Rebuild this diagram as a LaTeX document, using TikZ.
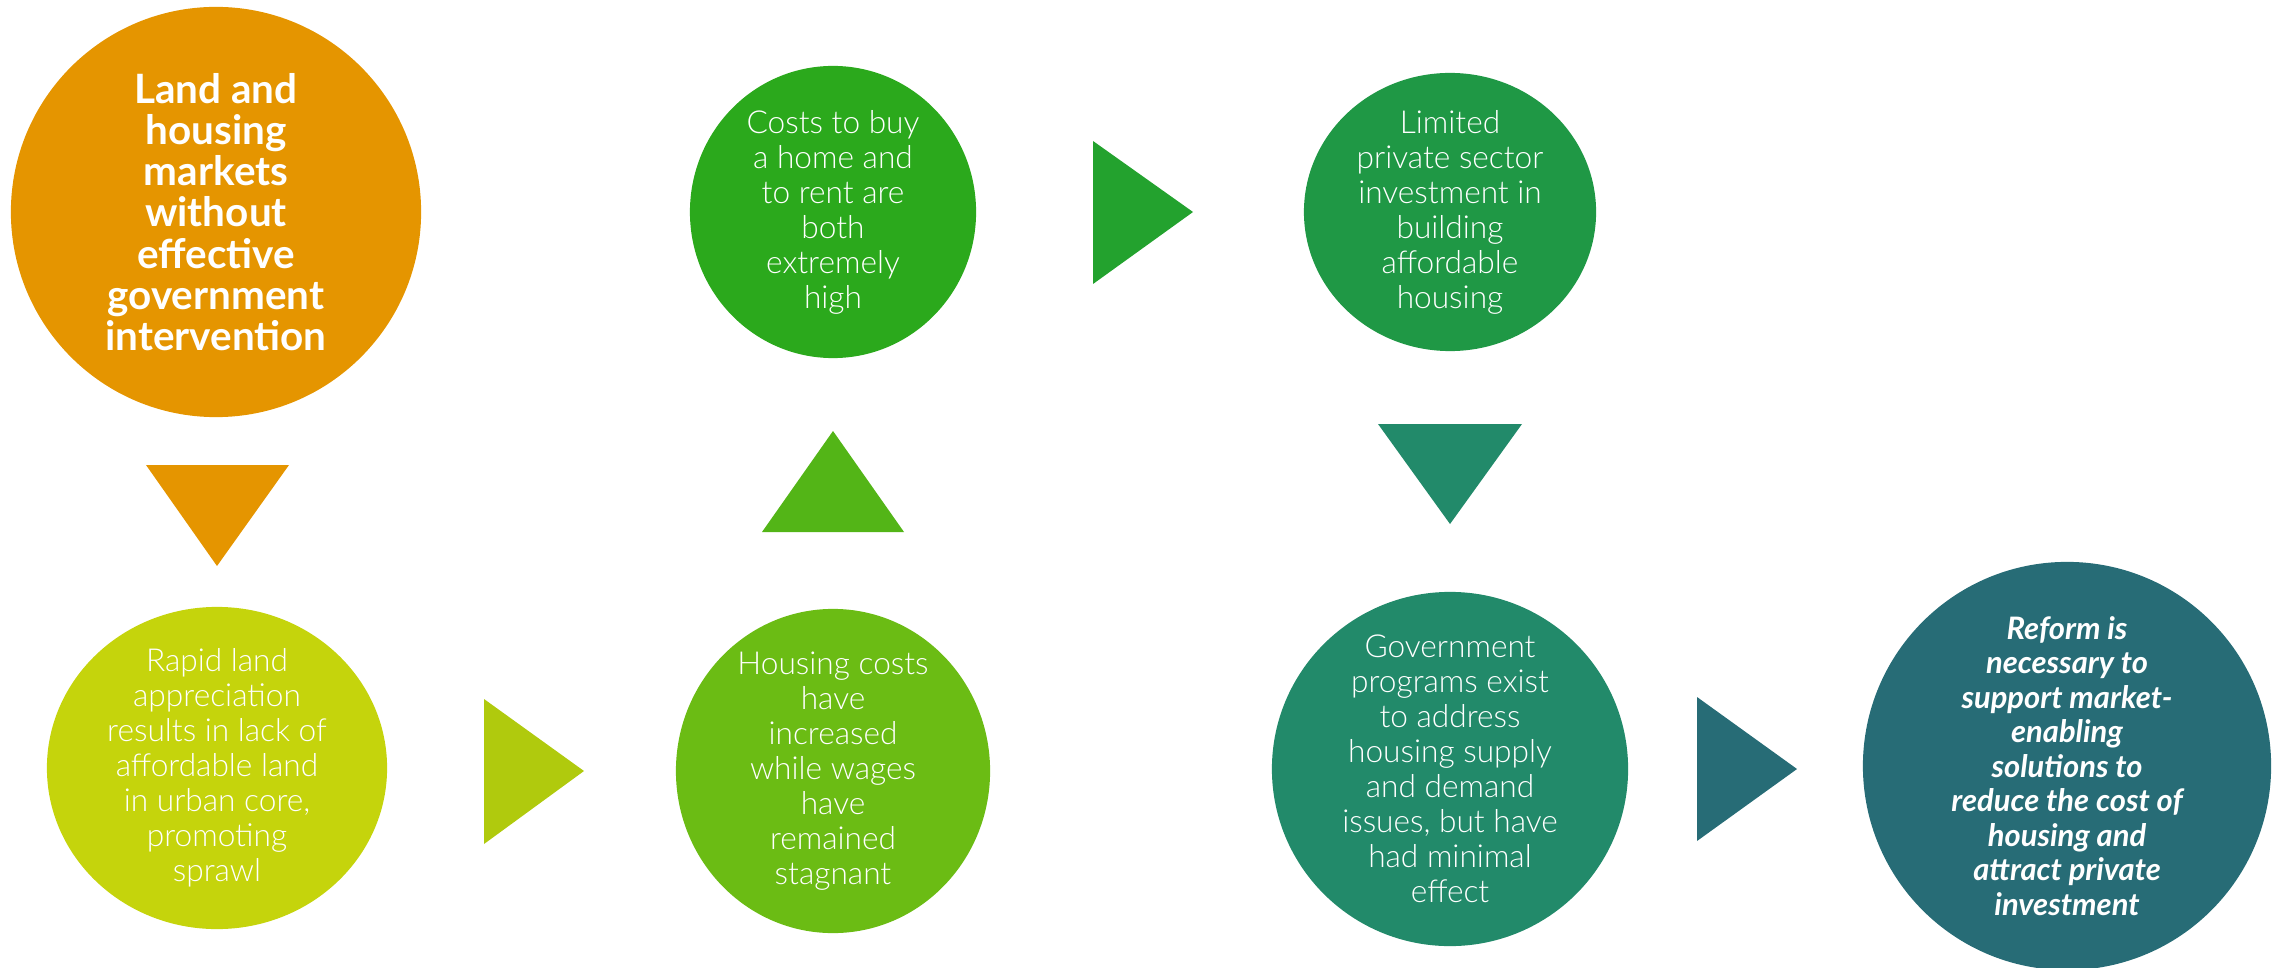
\documentclass[tikz,border=0pt]{standalone}
\usepackage{fontspec}
\setmainfont{Lato}[UprightFont={* Light},BoldFont={* Bold},BoldItalicFont={* Bold Italic}]
\usepackage{tikz}
\usetikzlibrary{shapes.geometric}
\definecolor{landorange}{HTML}{E59500}
\definecolor{limeyellow}{HTML}{C5D40C}
\definecolor{limearrow}{HTML}{B0CA0D}
\definecolor{leafgreen}{HTML}{6BBC14}
\definecolor{leafarrow}{HTML}{53B517}
\definecolor{grassgreen}{HTML}{2BA91C}
\definecolor{grassarrow}{HTML}{23A22E}
\definecolor{forestgreen}{HTML}{1F9845}
\definecolor{seagreen}{HTML}{228A6A}
\definecolor{deepteal}{HTML}{276C76}
\tikzset{
  bubble/.style={ellipse,draw=none,inner sep=0pt},
  bubbletext/.style={align=center,text=white,inner sep=0pt,font=\fontsize{9pt}{9.96pt}\selectfont},
  boldtext/.style={bubbletext,font=\fontsize{11.5pt}{11.7pt}\selectfont\bfseries},
  reformtext/.style={bubbletext,font=\fontsize{8.8pt}{9.8pt}\selectfont\bfseries\itshape}
}
\begin{document}
\begin{tikzpicture}[x=0.01cm,y=-0.01cm]
  \useasboundingbox (0,0) rectangle (2280,967);

  % top row
  \node[bubble,fill=landorange,minimum width=4.1cm,minimum height=4.1cm] (land) at (216,212) {};
  \node[boldtext] (landtxt) at (land) {Land and\\housing\\markets\\without\\effective\\government\\intervention};
  \node[bubble,fill=grassgreen,minimum width=2.86cm,minimum height=2.92cm] (costs) at (833,212) {};
  \node[bubbletext] (coststxt) at (costs) {Costs to buy\\a home and\\to rent are\\both\\extremely\\high};
  \node[bubble,fill=forestgreen,minimum width=2.92cm,minimum height=2.78cm] (limited) at (1450,212) {};
  \node[bubbletext] (limitedtxt) at (limited) {Limited\\private sector\\investment in\\building\\affordable\\housing};

  % bottom row
  \node[bubble,fill=limeyellow,minimum width=3.4cm,minimum height=3.22cm] (rapid) at (217,768) {};
  \node[bubbletext] (rapidtxt) at (rapid) {Rapid land\\appreciation\\results in lack of\\affordable land\\in urban core,\\promoting\\sprawl};
  \node[bubble,fill=leafgreen,minimum width=3.14cm,minimum height=3.24cm] (housing) at (833,771) {};
  \node[bubbletext] (housingtxt) at (housing) {Housing costs\\have\\increased\\while wages\\have\\remained\\stagnant};
  \node[bubble,fill=seagreen,minimum width=3.56cm,minimum height=3.54cm] (govt) at (1450,769) {};
  \node[bubbletext] (govttxt) at (govt) {Government\\programs exist\\to address\\housing supply\\and demand\\issues, but have\\had minimal\\effect};
  \node[bubble,fill=deepteal,minimum width=4.08cm,minimum height=4.08cm] (reform) at (2067,766) {};
  \node[reformtext] (reformtxt) at (reform) {Reform is\\necessary to\\support market-\\enabling\\solutions to\\reduce the cost of\\housing and\\attract private\\investment};

  % triangle arrows between the bubbles
  \fill[landorange] (146,465) -- (289,465) -- (217,566) -- cycle;
  \fill[limearrow] (484,699) -- (484,844) -- (584,771) -- cycle;
  \fill[leafarrow] (762,532) -- (904,532) -- (833,431) -- cycle;
  \fill[grassarrow] (1093,141) -- (1093,284) -- (1193,212) -- cycle;
  \fill[seagreen] (1378,424) -- (1522,424) -- (1450,524) -- cycle;
  \fill[deepteal] (1697,697) -- (1697,841) -- (1797,769) -- cycle;
\end{tikzpicture}
\end{document}
